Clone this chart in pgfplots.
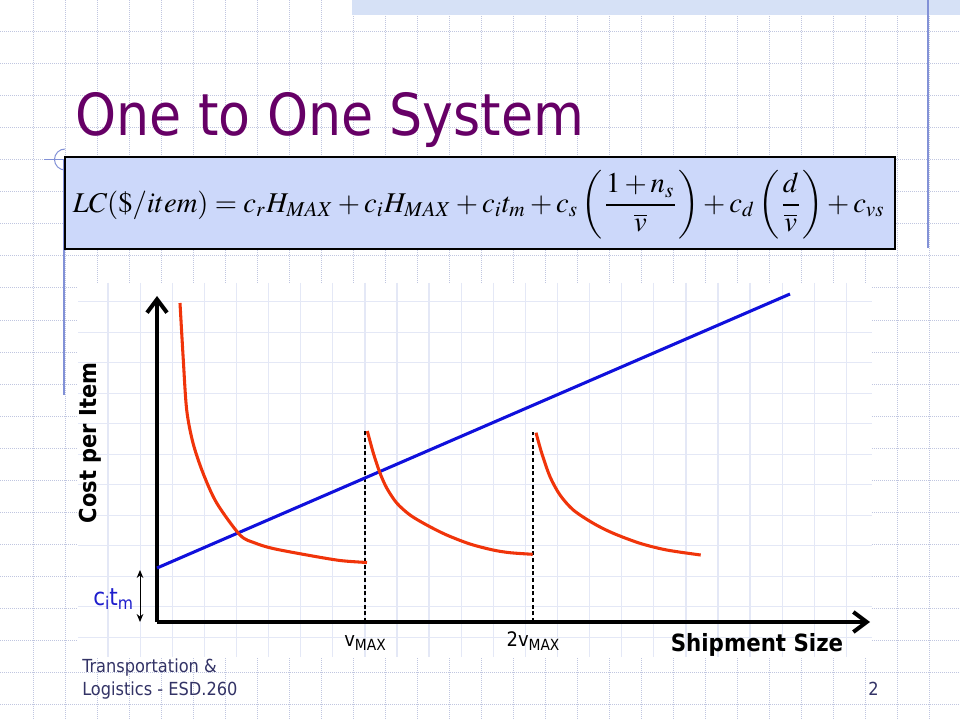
\documentclass[border=0pt]{standalone}
\usepackage{mathptmx}
\usepackage[no-math]{fontspec}
\usepackage{graphicx}
\usepackage{pgfplots}
\pgfplotsset{compat=1.18}
\usetikzlibrary{arrows.meta}
\newfontfamily\tahoma{DejaVu Sans Condensed}

\definecolor{titlepurple}{RGB}{102,0,102}
\definecolor{lineblue}{RGB}{16,16,220}
\definecolor{curvered}{RGB}{240,52,10}
\definecolor{labelblue}{RGB}{30,30,205}
\definecolor{footer}{RGB}{51,51,102}
\definecolor{slidegrid}{RGB}{192,198,224}
\definecolor{chartgrid}{RGB}{228,232,246}
\definecolor{boxfill}{RGB}{204,216,250}
\definecolor{band}{RGB}{214,225,246}
\definecolor{deco}{RGB}{130,145,215}

% curves, in pixels from the corner of the axes (x right, y up)
\pgfplotstableread{
x y
23 319
26.3 262
29.7 212
36 179
46 149
59.7 119
83 87
98 79
116 73.5
150 67
183 61.5
210 59.5
}\curveone
\pgfplotstableread{
x y
210.3 191
216.3 169
223 149
229.7 134
239.7 119
253 107
269.7 97
289.7 87
313 78
336 72
353 69.3
375.7 67.7
}\curvetwo
\pgfplotstableread{
x y
379 189.3
384.7 169
393 145.3
403 127
416.3 112
436.3 98.7
456.3 88.7
483 78.7
509.7 72
543.7 67
}\curvethree

\begin{document}
\begin{tikzpicture}
\begin{scope}[x=0.75pt,y=-0.75pt]
\useasboundingbox (0,0) rectangle (960,720);
\fill[white] (0,0) rectangle (960,720);
% slide grid
\foreach \i in {1,...,29} \draw[slidegrid,line width=0.75pt,dash pattern=on 0.75pt off 0.75pt] (32*\i+1,0) -- (32*\i+1,720);
\foreach \j in {1,...,22} \draw[slidegrid,line width=0.75pt,dash pattern=on 0.75pt off 0.75pt] (0,32*\j) -- (960,32*\j);
\fill[band] (352,0) rectangle (960,15);
% chart area
\fill[white] (78,283) rectangle (872,657);
\foreach \i in {1,...,24} \draw[chartgrid,line width=1pt] (76+32.1*\i,283) -- (76+32.1*\i,657);
\foreach \j in {0,...,11} \draw[chartgrid,line width=1pt] (78,301.7+30.5*\j) -- (872,301.7+30.5*\j);
% decorations
\draw[deco,line width=1pt] (928,0) -- (928,248);
\draw[deco,line width=1pt] (64,160) -- (64,395);
\draw[deco,line width=0.75pt] (44,159.5) -- (65,159.5);
\draw[deco,line width=0.75pt] (65,170) arc[start angle=90,end angle=270,radius=10.5];
% formula box
\draw[fill=boxfill,line width=1.5pt] (65,157) rectangle (895,249);
\node at (479,205) {\resizebox{609pt}{!}{$\displaystyle LC(\$/item)=c_rH_{MAX}+c_iH_{MAX}+c_it_m+c_s\left(\frac{1+n_s}{\overline{v}}\right)+c_d\left(\frac{d}{\overline{v}}\right)+c_{vs}$}};
% title
\node[anchor=base west,inner sep=0pt,text=titlepurple,font=\tahoma\fontsize{43.5}{52}\selectfont] at (75,136) {One to One System};
\node[anchor=base west,inner sep=0pt,text=labelblue,font=\tahoma\fontsize{18}{21}\selectfont] at (93,605) {c\raisebox{-0.35ex}{\fontsize{13}{15}\selectfont i}t\raisebox{-0.35ex}{\fontsize{13}{15}\selectfont m}};
% footer
\node[anchor=base west,inner sep=0pt,text=footer,font=\tahoma\fontsize{13.5}{16}\selectfont] at (82,672.7) {Transportation \&};
\node[anchor=base west,inner sep=0pt,text=footer,font=\tahoma\fontsize{13.5}{16}\selectfont] at (82,695) {Logistics - ESD.260};
\node[anchor=base east,inner sep=0pt,text=footer,font=\tahoma\fontsize{13.5}{16}\selectfont] at (879,695) {2};
\end{scope}

\begin{axis}[
  at={(117.75pt,-466.5pt)}, anchor=south west,
  width=534.75pt, height=244.5pt, scale only axis,
  xmin=0, xmax=713, ymin=0, ymax=326,
  axis lines=left,
  axis line style={line width=3pt,-{Straight Barb[length=10pt,width=15pt]}},
  xtick={208,376},
  xticklabels={{v\raisebox{-0.4ex}{\fontsize{11.5}{13}\selectfont MAX}},{2v\raisebox{-0.4ex}{\fontsize{11.5}{13}\selectfont MAX}}},
  xticklabel style={font=\tahoma\fontsize{15}{17}\selectfont,anchor=base,yshift=-18pt},
  ytick=\empty,
  major tick length=0pt,
  clip=false,
  xlabel={Shipment Size},
  xlabel style={font=\tahoma\bfseries\fontsize{17.8}{20}\selectfont,at={(axis description cs:0.8415,-0.089)},anchor=base},
  ylabel={Cost per Item},
  ylabel style={font=\tahoma\bfseries\fontsize{17.5}{20}\selectfont,at={(axis description cs:-0.094,0.549)},anchor=center,rotate=0},
]
\addplot[black,line width=1.1pt,dash pattern=on 3pt off 2pt] coordinates {(208,0) (208,191)};
\addplot[black,line width=1.1pt,dash pattern=on 3pt off 2pt] coordinates {(376,0) (376,190)};
\addplot[lineblue,line width=2.3pt] coordinates {(0,54) (633,328)};
\addplot[curvered,line width=2.3pt,smooth] table {\curveone};
\addplot[curvered,line width=2.3pt,smooth] table {\curvetwo};
\addplot[curvered,line width=2.3pt,smooth] table {\curvethree};
\addplot[black,line width=0.75pt,{Stealth[length=6pt,width=5pt]}-{Stealth[length=6pt,width=5pt]}] coordinates {(-17,52) (-17,0)};
\end{axis}
\end{tikzpicture}
\end{document}
